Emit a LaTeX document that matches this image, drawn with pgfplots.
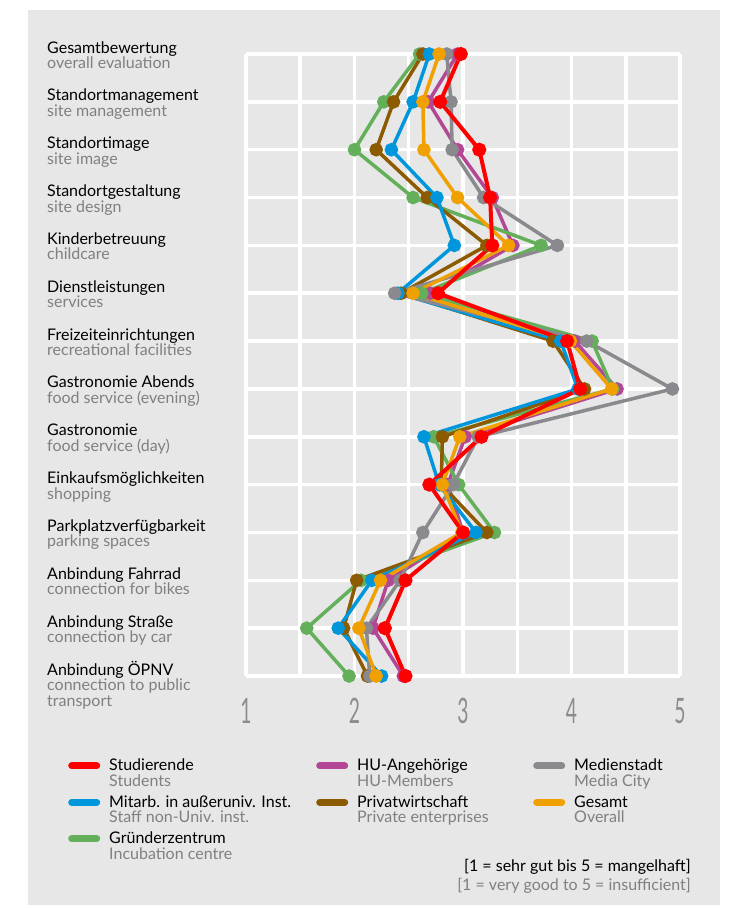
\documentclass[border=0pt]{standalone}
\usepackage{pgfplots}
\pgfplotsset{compat=1.18}
\usepackage{pgfplotstable}
\usepackage{fontspec}
\setmainfont{Lato}
\definecolor{bg}{RGB}{230,231,230}
\definecolor{sub}{RGB}{128,128,128}
\definecolor{tickg}{RGB}{140,140,140}
\definecolor{cStud}{RGB}{255,0,0}
\definecolor{cHU}{RGB}{180,70,150}
\definecolor{cMed}{RGB}{138,138,142}
\definecolor{cMit}{RGB}{0,150,220}
\definecolor{cPriv}{RGB}{140,90,0}
\definecolor{cGes}{RGB}{240,160,0}
\definecolor{cGru}{RGB}{100,175,90}
\newcommand{\lab}[2]{\parbox[t]{190pt}{\raggedright #1\\\textcolor{sub}{#2}}}
\newcommand{\labiii}[3]{\parbox[t]{190pt}{\raggedright #1\\\textcolor{sub}{#2}\\\textcolor{sub}{#3}}}
\newcommand{\tnum}[1]{\scalebox{0.55}[1]{\fontsize{35}{35}\selectfont #1}}
\pgfplotstableread{
row stud hu med mit priv ges gruen
1 2.98 2.95 2.85 2.69 2.63 2.78 2.60
2 2.79 2.68 2.89 2.54 2.36 2.63 2.27
3 3.15 2.95 2.90 2.34 2.20 2.64 2.00
4 3.25 3.27 3.19 2.76 2.67 2.95 2.54
5 3.27 3.46 3.87 2.92 3.22 3.42 3.72
6 2.77 2.70 2.37 2.40 2.43 2.54 2.62
7 3.96 4.03 4.14 3.90 3.83 3.99 4.19
8 4.08 4.42 4.93 4.06 4.12 4.37 4.38
9 3.17 3.02 3.14 2.64 2.81 2.97 2.73
10 2.69 2.86 2.91 2.78 2.80 2.81 2.96
11 3.00 3.00 2.63 3.12 3.22 2.99 3.29
12 2.47 2.31 2.42 2.16 2.02 2.24 2.06
13 2.28 2.17 2.11 1.85 1.90 2.04 1.56
14 2.47 2.45 2.14 2.25 2.12 2.20 1.95
}\data
\begin{document}
\begin{tikzpicture}
\useasboundingbox (0pt,0pt) rectangle (731pt,-908pt);
\fill[bg] (28pt,-10pt) rectangle (720pt,-905pt);
\begin{axis}[
  at={(246pt,-54pt)}, anchor=north west,
  scale only axis, width=434pt, height=622pt,
  xmin=1, xmax=5, ymin=1, ymax=14, y dir=reverse,
  clip=false,
  axis line style={draw=none},
  xtick={1,2,3,4,5},
  xticklabels={\tnum{1},\tnum{2},\tnum{3},\tnum{4},\tnum{5}},
  minor xtick={1.5,2.5,3.5,4.5},
  ytick={1,...,14},
  yticklabels={
    {\lab{Gesamtbewertung}{overall evaluation}},
    {\lab{Standortmanagement}{site management}},
    {\lab{Standortimage}{site image}},
    {\lab{Standortgestaltung}{site design}},
    {\lab{Kinderbetreuung}{childcare}},
    {\lab{Dienstleistungen}{services}},
    {\lab{Freizeiteinrichtungen}{recreational facilities}},
    {\lab{Gastronomie Abends}{food service (evening)}},
    {\lab{Gastronomie}{food service (day)}},
    {\lab{Einkaufsmöglichkeiten}{shopping}},
    {\lab{Parkplatzverfügbarkeit}{parking spaces}},
    {\lab{Anbindung Fahrrad}{connection for bikes}},
    {\lab{Anbindung Straße}{connection by car}},
    {\labiii{Anbindung ÖPNV}{connection to public}{transport}}},
  yticklabel style={anchor=base west, xshift=-199pt, yshift=1pt, font=\fontsize{16}{15.5}\selectfont, inner sep=0pt},
  xticklabel style={text=tickg, anchor=north, yshift=-22pt, inner sep=0pt},
  grid=both,
  major grid style={white, line width=3.5pt},
  minor grid style={white, line width=3.5pt},
  major tick length=0pt, minor tick length=0pt,
  tick style={draw=none},
  every axis plot/.append style={line width=3.5pt, mark=*, mark size=5pt, mark options={solid}},
  legend columns=3,
  legend image code/.code={\draw[#1, mark=none, line width=7pt, line cap=round] (3.5pt,5pt) -- (28.5pt,5pt); \path[draw=none, fill=none] (0pt,5pt) -- (32pt,5pt);},
  legend style={at={(-0.4101,-0.1334)}, anchor=north west, draw=none, fill=none, inner sep=0pt,
    font=\fontsize{16}{15.5}\selectfont,
    cells={anchor=base west}, nodes={inner sep=0pt},
    row sep=23pt,
    /tikz/every odd column/.append style={column sep=9pt},
    /tikz/every even column/.append style={column sep=12pt}},
]
\addlegendimage{cStud}
\addlegendentry{\parbox[t]{195pt}{Studierende\\\textcolor{sub}{Students}}}
\addlegendimage{cHU}
\addlegendentry{\parbox[t]{164pt}{HU-Angehörige\\\textcolor{sub}{HU-Members}}}
\addlegendimage{cMed}
\addlegendentry{\parbox[t]{130pt}{Medienstadt\\\textcolor{sub}{Media City}}}
\addlegendimage{cMit}
\addlegendentry{\parbox[t]{195pt}{Mitarb. in außeruniv. Inst.\\\textcolor{sub}{Staff non-Univ. inst.}}}
\addlegendimage{cPriv}
\addlegendentry{\parbox[t]{164pt}{Privatwirtschaft\\\textcolor{sub}{Private enterprises}}}
\addlegendimage{cGes}
\addlegendentry{\parbox[t]{130pt}{Gesamt\\\textcolor{sub}{Overall}}}
\addlegendimage{cGru}
\addlegendentry{\parbox[t]{195pt}{Gründerzentrum\\\textcolor{sub}{Incubation centre}}}
\addplot[cHU, forget plot] table[x=hu, y=row] {\data};
\addplot[cGru, forget plot] table[x=gruen, y=row] {\data};
\addplot[cPriv, forget plot] table[x=priv, y=row] {\data};
\addplot[cMit, forget plot] table[x=mit, y=row] {\data};
\addplot[cMed, forget plot] table[x=med, y=row] {\data};
\addplot[cGes, forget plot] table[x=ges, y=row] {\data};
\addplot[cStud, forget plot, line width=4pt] table[x=stud, y=row] {\data};
\end{axis}
\node[anchor=base east, font=\fontsize{16}{15.5}\selectfont, inner sep=0pt] at (691pt,-871pt) {[1 = sehr gut bis 5 = mangelhaft]};
\node[anchor=base east, font=\fontsize{16}{15.5}\selectfont, text=sub, inner sep=0pt] at (691pt,-890pt) {[1 = very good to 5 = insufficient]};
\end{tikzpicture}
\end{document}
